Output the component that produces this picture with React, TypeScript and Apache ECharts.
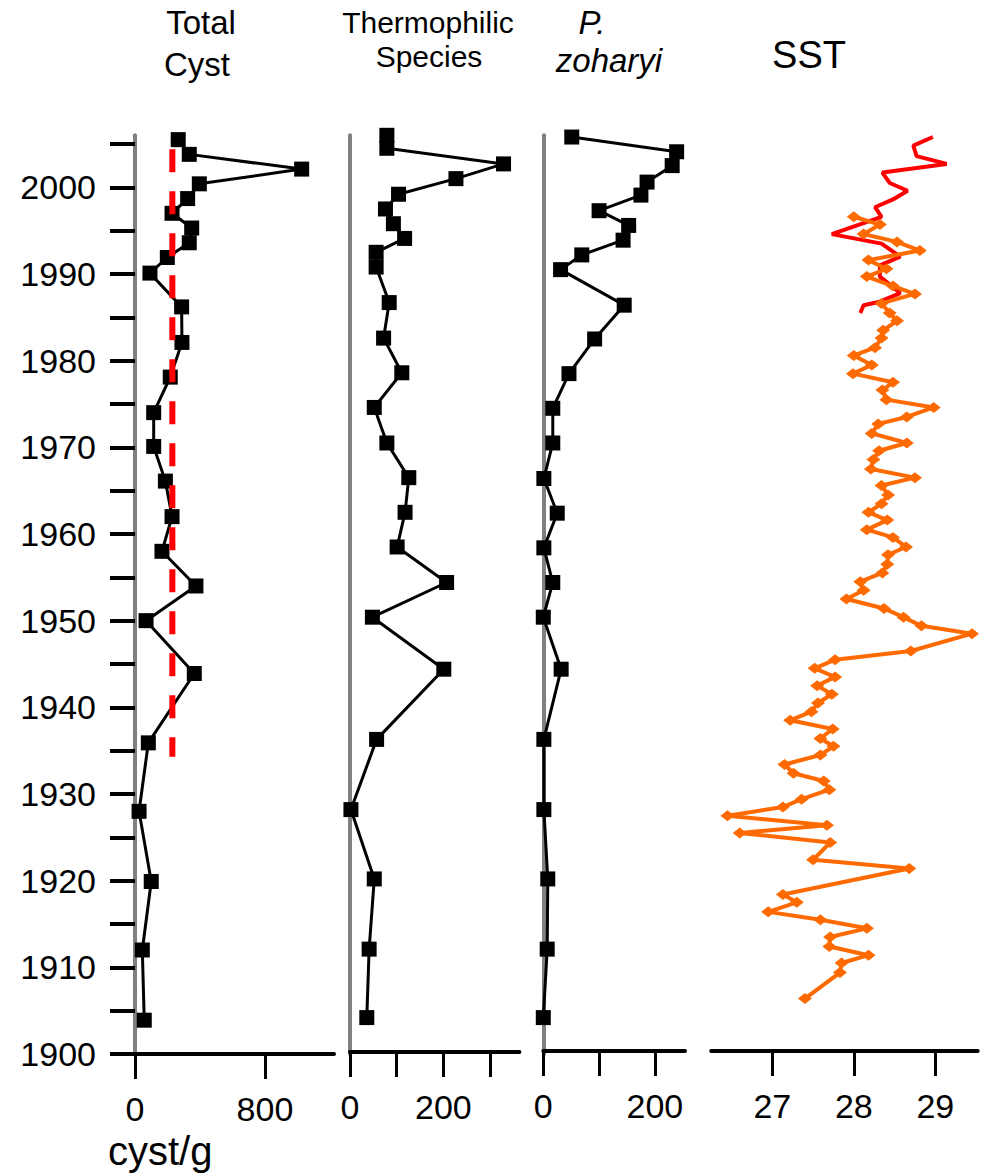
import React, { useEffect, useRef } from "react";
import * as echarts from "echarts";

// ---------- data ----------
const yearTicks = [1900, 1905, 1910, 1915, 1920, 1925, 1930, 1935, 1940, 1945, 1950, 1955, 1960, 1965, 1970, 1975, 1980, 1985, 1990, 1995, 2000, 2005];
const yearLabels = [1900, 1910, 1920, 1930, 1940, 1950, 1960, 1970, 1980, 1990, 2000];

const totalYears = [2005.5, 2003.8, 2002.1, 2000.4, 1998.7, 1997.0, 1995.3, 1993.6, 1991.9, 1990.1, 1986.2, 1982.1, 1978.1, 1974.0, 1970.1, 1966.1, 1962.0, 1958.0, 1954.0, 1950.0, 1943.9, 1935.9, 1928.0, 1919.9, 1912.0, 1903.9];
const totalCyst = [266, 334, 1026, 396, 324, 228, 349, 334, 199, 92, 287, 289, 217, 115, 115, 187, 228, 166, 375, 68, 365, 82, 25, 100, 45, 57];
const totalMean = 230;
const totalMeanYears = [2004.4, 1934.3];
const totalTicks = [0, 800];
const totalLabels = [0, 800];

const thermoYears = [2006.0, 2004.5, 2002.7, 2001.0, 1999.2, 1997.5, 1995.8, 1994.1, 1992.5, 1990.8, 1986.7, 1982.6, 1978.6, 1974.6, 1970.5, 1966.5, 1962.5, 1958.5, 1954.4, 1950.4, 1944.4, 1936.3, 1928.2, 1920.2, 1912.1, 1904.2];
const thermo = [79, 79, 329, 227, 104, 76, 93, 117, 56, 56, 84, 72, 111, 52, 79, 126, 118, 101, 207, 48, 201, 57, 2, 52, 41, 36];
const thermoTicks = [0, 100, 200, 300];
const thermoLabels = [0, 200];

const zoharyiYears = [2005.8, 2004.1, 2002.5, 2000.6, 1999.1, 1997.3, 1995.6, 1993.9, 1992.2, 1990.5, 1986.4, 1982.5, 1978.5, 1974.5, 1970.5, 1966.4, 1962.4, 1958.4, 1954.4, 1950.4, 1944.4, 1936.3, 1928.2, 1920.2, 1912.1, 1904.2];
const zoharyi = [51, 239, 231, 186, 175, 100, 153, 143, 69, 31, 145, 92, 46, 17, 17, 1, 25, 1, 17, 0, 32, 1, 1, 8, 7, 0];
const zoharyiTicks = [0, 100, 200];
const zoharyiLabels = [0, 200];

const sstRedYears = [2005.8, 2004.8, 2003.6, 2002.7, 2001.7, 2000.5, 1999.6, 1998.6, 1997.7, 1996.6, 1994.6, 1993.5, 1992.0, 1991.0, 1989.7, 1987.8, 1986.8, 1986.4, 1985.5];
const sstRed = [28.97, 28.73, 28.77, 29.14, 28.35, 28.44, 28.66, 28.48, 28.26, 28.34, 27.73, 28.34, 28.57, 28.32, 28.32, 28.57, 28.32, 28.12, 28.08];

const sstOrangeYears = [
  1996.6, 1995.7, 1994.6, 1993.7, 1992.7, 1991.6, 1990.6, 1989.7, 1988.6, 1987.7,
  1986.6, 1985.5, 1984.6, 1983.5, 1982.6, 1981.5, 1980.6, 1979.5, 1978.5, 1977.5,
  1976.6, 1975.5, 1974.6, 1973.5, 1972.7, 1971.6, 1970.5, 1969.6, 1968.6, 1967.5,
  1966.5, 1965.6, 1964.5, 1963.5, 1962.5, 1961.6, 1960.5, 1959.6, 1958.5, 1957.6,
  1956.5, 1955.5, 1954.5, 1953.5, 1952.5, 1951.4, 1950.4, 1949.4, 1948.5, 1946.5,
  1945.5, 1944.5, 1943.5, 1942.5, 1941.5, 1940.5, 1939.5, 1938.5, 1937.5, 1936.4,
  1935.5, 1934.5, 1933.4, 1932.4, 1931.5, 1930.5, 1929.4, 1928.5, 1927.5, 1926.4,
  1925.5, 1924.4, 1922.4, 1921.4, 1918.4, 1917.5, 1916.4, 1915.5, 1914.5, 1913.5,
  1912.4, 1911.4, 1910.5, 1909.4, 1906.4,
];
const sstOrange = [
  28.0, 28.32, 28.12, 28.53, 28.81, 28.18, 28.4, 28.16, 28.48, 28.75,
  28.34, 28.44, 28.53, 28.36, 28.34, 28.26, 28.0, 28.22, 27.99, 28.48,
  28.35, 28.4, 28.98, 28.65, 28.3, 28.22, 28.65, 28.31, 28.24, 28.21,
  28.75, 28.34, 28.42, 28.34, 28.18, 28.41, 28.16, 28.48, 28.64, 28.42,
  28.41, 28.35, 28.08, 28.12, 27.91, 28.37, 28.61, 28.83, 29.45, 28.7,
  27.77, 27.52, 27.77, 27.55, 27.73, 27.56, 27.48, 27.22, 27.74, 27.59,
  27.75, 27.59, 27.15, 27.26, 27.63, 27.7, 27.36, 27.13, 26.45, 27.67,
  26.6, 27.71, 27.5, 28.68, 27.13, 27.3, 26.95, 27.59, 28.16, 27.71,
  27.7, 28.18, 27.85, 27.83, 27.4,
];
const sstTicks = [27, 28, 29];
const sstLabels = [27, 28, 29];

// ---------- layout ----------
const W = 986;
const H = 1176;
const Y_MIN = 1900;
const Y_MAX = 2006;
const Y_BOTTOM = 1054;
const PX_PER_YEAR = 8.667;
const Y_TOP = Y_BOTTOM - (Y_MAX - Y_MIN) * PX_PER_YEAR;
const FONT = "'Liberation Sans', Arial, sans-serif";

const panels = [
  { left: 135, width: 199, min: 0, max: 1225, ticks: totalTicks, labels: totalLabels, offset: 0, yAxis: "full" },
  { left: 350, width: 169.4, min: 0, max: 363, ticks: thermoTicks, labels: thermoLabels, offset: -2, yAxis: "line" },
  { left: 543.3, width: 141.7, min: 0, max: 254, ticks: zoharyiTicks, labels: zoharyiLabels, offset: -3, yAxis: "line" },
  { left: 711.2, width: 266.5, min: 26.25, max: 29.52, ticks: sstTicks, labels: sstLabels, offset: -3, yAxis: "none" },
];

const pairs = (xs: number[], ys: number[]) => xs.map((x, i) => [x, ys[i]]);

export default function App() {
  const ref = useRef<HTMLDivElement>(null);
  useEffect(() => {
    const chart = echarts.init(ref.current!, undefined, { renderer: "svg" });
    const grid = panels.map((p) => ({
      left: p.left,
      top: Y_TOP,
      width: p.width,
      height: Y_BOTTOM - Y_TOP,
      containLabel: false,
    }));
    const xAxis = panels.map((p, i) => ({
      type: "value",
      gridIndex: i,
      min: p.min,
      max: p.max,
      position: "bottom",
      offset: p.offset,
      axisLine: { show: true, onZero: false, lineStyle: { color: "#000", width: 4 } },
      axisTick: { show: true, inside: false, length: 25, customValues: p.ticks, lineStyle: { color: "#000", width: 3 } },
      axisLabel: {
        show: true,
        customValues: p.labels,
        margin: 38,
        fontSize: 34,
        color: "#000",
        fontFamily: FONT,
        formatter: (v: number) => String(v),
      },
      splitLine: { show: false },
    }));
    const yAxis = panels.map((p, i) => ({
      type: "value",
      gridIndex: i,
      min: Y_MIN,
      max: Y_MAX,
      show: p.yAxis !== "none",
      axisLine: { show: p.yAxis !== "none", onZero: false, lineStyle: { color: "#808080", width: 4 } },
      axisTick: {
        show: p.yAxis === "full",
        inside: false,
        length: 25,
        customValues: yearTicks,
        lineStyle: { color: "#000", width: 4 },
      },
      axisLabel: {
        show: p.yAxis === "full",
        customValues: yearLabels,
        margin: 39,
        fontSize: 34,
        color: "#000",
        fontFamily: FONT,
        formatter: (v: number) => String(v),
      },
      splitLine: { show: false },
    }));

    const blackSeries = (xi: number, xs: number[], ys: number[]) => ({
      type: "line",
      xAxisIndex: xi,
      yAxisIndex: xi,
      data: pairs(xs, ys),
      symbol: "rect",
      symbolSize: 15,
      showSymbol: true,
      lineStyle: { color: "#000", width: 3 },
      itemStyle: { color: "#000" },
      z: 3,
      clip: false,
    });

    const option = {
      animation: false,
      backgroundColor: "#fff",
      textStyle: { fontFamily: FONT },
      grid,
      xAxis,
      yAxis,
      series: [
        blackSeries(0, totalCyst, totalYears),
        {
          type: "line",
          xAxisIndex: 0,
          yAxisIndex: 0,
          data: totalMeanYears.map((y) => [totalMean, y]),
          symbol: "none",
          lineStyle: { color: "#ff0000", width: 6, type: [23, 19] },
          z: 4,
        },
        blackSeries(1, thermo, thermoYears),
        blackSeries(2, zoharyi, zoharyiYears),
        {
          type: "line",
          xAxisIndex: 3,
          yAxisIndex: 3,
          data: pairs(sstRed, sstRedYears),
          symbol: "none",
          lineStyle: { color: "#ff0000", width: 4 },
          z: 3,
        },
        {
          type: "line",
          xAxisIndex: 3,
          yAxisIndex: 3,
          data: pairs(sstOrange, sstOrangeYears),
          symbol: "diamond",
          symbolSize: [14, 11],
          showSymbol: true,
          lineStyle: { color: "#ff6a00", width: 4 },
          itemStyle: { color: "#ff6a00" },
          z: 4,
        },
      ],
      graphic: [
        { type: "text", x: 201, y: 22, style: { text: "Total", fontSize: 33, fontFamily: FONT, fill: "#000", align: "center", verticalAlign: "middle" } },
        { type: "text", x: 197, y: 64, style: { text: "Cyst", fontSize: 33, fontFamily: FONT, fill: "#000", align: "center", verticalAlign: "middle" } },
        { type: "text", x: 428, y: 22, style: { text: "Thermophilic", fontSize: 30, fontFamily: FONT, fill: "#000", align: "center", verticalAlign: "middle" } },
        { type: "text", x: 429, y: 56, style: { text: "Species", fontSize: 30, fontFamily: FONT, fill: "#000", align: "center", verticalAlign: "middle" } },
        { type: "text", x: 592, y: 22, style: { text: "P.", fontSize: 33, fontStyle: "italic", fontFamily: FONT, fill: "#000", align: "center", verticalAlign: "middle" } },
        { type: "text", x: 609, y: 60, style: { text: "zoharyi", fontSize: 33, fontStyle: "italic", fontFamily: FONT, fill: "#000", align: "center", verticalAlign: "middle" } },
        { type: "text", x: 809, y: 55, style: { text: "SST", fontSize: 38, fontFamily: FONT, fill: "#000", align: "center", verticalAlign: "middle" } },
        { type: "text", x: 108, y: 1151, style: { text: "cyst/g", fontSize: 40, fontFamily: FONT, fill: "#000", align: "left", verticalAlign: "middle" } },
      ],
    };
    chart.setOption(option as any);
    return () => chart.dispose();
  }, []);
  return <div ref={ref} style={{ position: "absolute", left: 0, top: 0, width: W, height: H, background: "#fff" }} />;
}
